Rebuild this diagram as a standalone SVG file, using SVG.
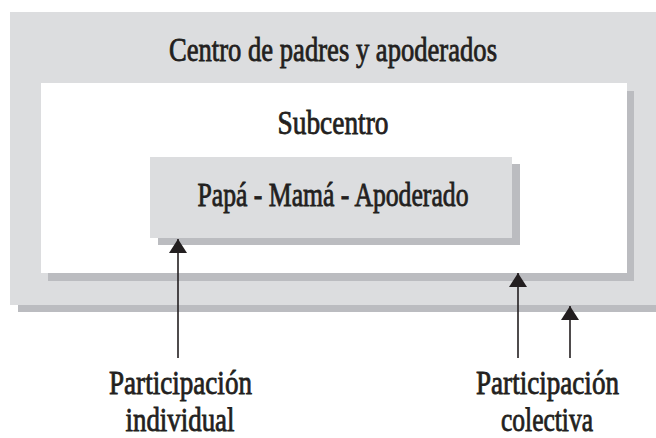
<svg xmlns="http://www.w3.org/2000/svg" width="656" height="438" viewBox="0 0 656 438">
<defs>
<style>
.box{fill:#dcdddf}
.white{fill:#ffffff}
.shadow{fill:#bbbcc0}
.t{font-family:"Liberation Serif","DejaVu Serif",serif;fill:#231f20;stroke:#231f20;stroke-width:0.8;text-anchor:middle;font-size:33px}
.line{stroke:#231f20;stroke-width:1.6;fill:none}
</style>
<marker id="ah" markerWidth="14" markerHeight="18" refX="14" refY="9" orient="auto" markerUnits="userSpaceOnUse" viewBox="0 0 14 18">
<path d="M0,0 L14,9 L0,18 Z" fill="#231f20"/>
</marker>
</defs>
<rect width="656" height="438" fill="#ffffff"/>
<g id="centro">
<rect class="shadow" x="18" y="19" width="638" height="293"/>
<rect class="box" x="10" y="12" width="646" height="293"/>
<text class="t" x="333" y="61" textLength="328" lengthAdjust="spacingAndGlyphs">Centro de padres y apoderados</text>
</g>
<g id="subcentro">
<rect class="shadow" x="48" y="91" width="586" height="190"/>
<rect class="white" x="41" y="83" width="586" height="190"/>
<text class="t" x="333" y="134" textLength="111" lengthAdjust="spacingAndGlyphs">Subcentro</text>
</g>
<g id="papa">
<rect class="shadow" x="158" y="164" width="362" height="81"/>
<rect class="box" x="150" y="157" width="362" height="81"/>
<text class="t" x="333" y="206" textLength="271" lengthAdjust="spacingAndGlyphs">Papá - Mamá - Apoderado</text>
</g>
<g id="connectors">
<line class="line" x1="178" y1="358" x2="178" y2="239" marker-end="url(#ah)"/>
<line class="line" x1="518" y1="358" x2="518" y2="273" marker-end="url(#ah)"/>
<line class="line" x1="570" y1="358" x2="570" y2="306" marker-end="url(#ah)"/>
</g>
<g id="label-individual">
<text class="t" x="180.5" y="394" textLength="143" lengthAdjust="spacingAndGlyphs">Participación</text>
<text class="t" x="180" y="431" textLength="109" lengthAdjust="spacingAndGlyphs">individual</text>
</g>
<g id="label-colectiva">
<text class="t" x="547.5" y="394" textLength="143" lengthAdjust="spacingAndGlyphs">Participación</text>
<text class="t" x="547" y="431" textLength="92" lengthAdjust="spacingAndGlyphs">colectiva</text>
</g>
</svg>
